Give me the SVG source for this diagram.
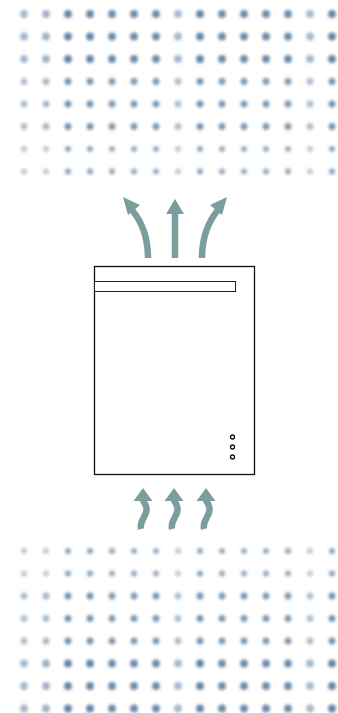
<svg xmlns="http://www.w3.org/2000/svg" xmlns:xlink="http://www.w3.org/1999/xlink" width="338" height="713" viewBox="0 0 338 713">
<style>
.dots{fill:#5a7e9e}
.box{fill:#fff;stroke:#111;stroke-width:1.3}
.bar{fill:#fff;stroke:#222;stroke-width:1}
.led{fill:#fff;stroke:#111;stroke-width:1.3}
.flow{fill:none;stroke:#7b9e9d;stroke-width:6.5}
.head{fill:#7b9e9d}
</style>
<defs>
<filter id="blur" x="-10%" y="-10%" width="120%" height="120%"><feGaussianBlur stdDeviation="1.8"/></filter>
<g id="rowA">
<circle cx="24" cy="0" r="3.9" opacity="0.55"/><circle cx="46" cy="0" r="3.9" opacity="0.6"/><circle cx="68" cy="0" r="3.9" opacity="0.95"/><circle cx="90" cy="0" r="3.9" opacity="0.95"/><circle cx="112" cy="0" r="3.9" opacity="0.9"/><circle cx="134" cy="0" r="3.9" opacity="0.9"/><circle cx="156" cy="0" r="3.9" opacity="0.9"/><circle cx="178" cy="0" r="3.9" opacity="0.55"/><circle cx="200" cy="0" r="3.9" opacity="0.95"/><circle cx="222" cy="0" r="3.9" opacity="0.9"/><circle cx="244" cy="0" r="3.9" opacity="0.9"/><circle cx="266" cy="0" r="3.9" opacity="0.9"/><circle cx="288" cy="0" r="3.9" opacity="0.9"/><circle cx="310" cy="0" r="3.9" opacity="0.55"/><circle cx="332" cy="0" r="3.9" opacity="0.95"/>
</g>
<g id="rowB">
<circle cx="24" cy="0" r="3.4" opacity="0.5"/><circle cx="46" cy="0" r="3.4" opacity="0.55"/><circle cx="68" cy="0" r="3.4" opacity="0.85"/><circle cx="90" cy="0" r="3.4" opacity="0.85"/><circle cx="112" cy="0" r="3.4" opacity="0.8"/><circle cx="134" cy="0" r="3.4" opacity="0.8"/><circle cx="156" cy="0" r="3.4" opacity="0.8"/><circle cx="178" cy="0" r="3.4" opacity="0.5"/><circle cx="200" cy="0" r="3.4" opacity="0.85"/><circle cx="222" cy="0" r="3.4" opacity="0.8"/><circle cx="244" cy="0" r="3.4" opacity="0.8"/><circle cx="266" cy="0" r="3.4" opacity="0.8"/><circle cx="288" cy="0" r="3.4" opacity="0.8"/><circle cx="310" cy="0" r="3.4" opacity="0.5"/><circle cx="332" cy="0" r="3.4" opacity="0.85"/>
</g>
<g id="rowC">
<circle cx="24" cy="0" r="3" opacity="0.4"/><circle cx="46" cy="0" r="3" opacity="0.4"/><circle cx="68" cy="0" r="3" opacity="0.7"/><circle cx="90" cy="0" r="3" opacity="0.7"/><circle cx="112" cy="0" r="3" opacity="0.65"/><circle cx="134" cy="0" r="3" opacity="0.65"/><circle cx="156" cy="0" r="3" opacity="0.65"/><circle cx="178" cy="0" r="3" opacity="0.4"/><circle cx="200" cy="0" r="3" opacity="0.7"/><circle cx="222" cy="0" r="3" opacity="0.65"/><circle cx="244" cy="0" r="3" opacity="0.65"/><circle cx="266" cy="0" r="3" opacity="0.65"/><circle cx="288" cy="0" r="3" opacity="0.65"/><circle cx="310" cy="0" r="3" opacity="0.4"/><circle cx="332" cy="0" r="3" opacity="0.7"/>
</g>
</defs>
<rect width="338" height="713" fill="#fff"/>
<g id="dots-top" class="dots" filter="url(#blur)">
<use xlink:href="#rowA" href="#rowA" y="14"/>
<use xlink:href="#rowA" href="#rowA" y="36.5"/>
<use xlink:href="#rowA" href="#rowA" y="59"/>
<use xlink:href="#rowB" href="#rowB" y="81.5"/>
<use xlink:href="#rowB" href="#rowB" y="104"/>
<use xlink:href="#rowB" href="#rowB" y="126.5"/>
<use xlink:href="#rowC" href="#rowC" y="149"/>
<use xlink:href="#rowC" href="#rowC" y="171.5"/>
</g>
<g id="dots-bottom" class="dots" filter="url(#blur)">
<use xlink:href="#rowC" href="#rowC" y="551"/>
<use xlink:href="#rowC" href="#rowC" y="573.5"/>
<use xlink:href="#rowB" href="#rowB" y="596"/>
<use xlink:href="#rowB" href="#rowB" y="618.5"/>
<use xlink:href="#rowB" href="#rowB" y="641"/>
<use xlink:href="#rowA" href="#rowA" y="663.5"/>
<use xlink:href="#rowA" href="#rowA" y="686"/>
<use xlink:href="#rowA" href="#rowA" y="708.5"/>
</g>
<g id="server">
<rect class="box" x="94.5" y="266.5" width="160" height="208"/>
<rect class="bar" x="94.5" y="281.5" width="141" height="10"/>
<circle class="led" cx="232.5" cy="437" r="2"/>
<circle class="led" cx="232.5" cy="447" r="2"/>
<circle class="led" cx="232.5" cy="457" r="2"/>
</g>
<g id="connectors">
<g id="hot-air">
<path class="flow" d="M175,258 V212"/>
<polygon class="head" points="175,199 184,214 166,214"/>
<path class="flow" d="M148,258 C148,238 142,222 132,210"/>
<polygon class="head" points="123,197 140,205 128,215"/>
<path class="flow" d="M202,258 C202,238 208,222 218,210"/>
<polygon class="head" points="227,197 210,205 222,215"/>
</g>
<g id="cool-air">
<path class="flow" d="M141,529 C139,520 148,515 146.5,508 C145.5,503 143,502 143,499"/>
<polygon class="head" points="143,488 152.5,501 133.5,501"/>
<path class="flow" d="M172,529 C170,520 179,515 177.5,508 C176.5,503 174,502 174,499"/>
<polygon class="head" points="174,488 183.5,501 164.5,501"/>
<path class="flow" d="M204,529 C202,520 211,515 209.5,508 C208.5,503 206,502 206,499"/>
<polygon class="head" points="206,488 215.5,501 196.5,501"/>
</g>
</g>
</svg>
